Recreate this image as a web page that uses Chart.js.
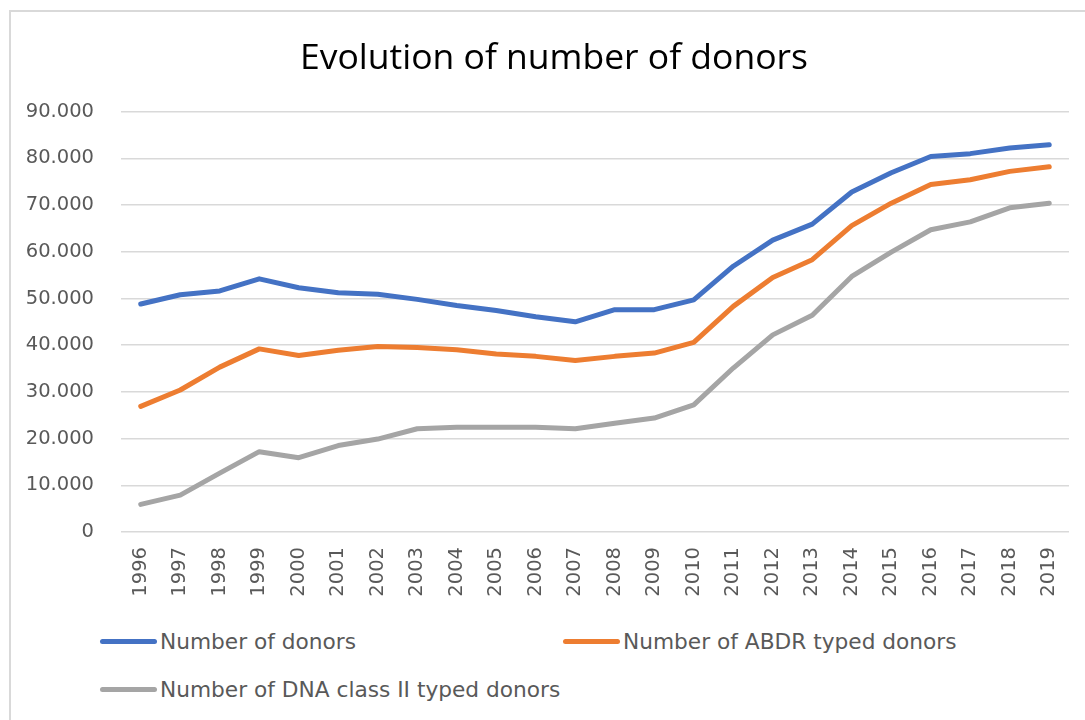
<!DOCTYPE html>
<html>
<head>
<meta charset="utf-8">
<script src="https://cdn.jsdelivr.net/npm/chart.js@4/dist/chart.umd.min.js"></script>
<style>
  html, body { margin: 0; padding: 0; background: #fff; overflow: hidden; }
  body { width: 1085px; height: 720px; position: relative; }
  .frame { position: absolute; left: 9px; top: 10px; width: 1200px; height: 800px;
           border-left: 2px solid #d9d9d9; border-top: 2px solid #d9d9d9; box-sizing: border-box; }
  #chartBox { position: absolute; left: 9px; top: 10px; }
  .legend-item { position: absolute; display: flex; align-items: center; height: 30px;
                 font-family: "DejaVu Sans", sans-serif; font-size: 21.7px; color: #595959; white-space: nowrap; }
  .legend-item .swatch { width: 57px; height: 5px; border-radius: 3px; margin-right: 3px; }
</style>
</head>
<body>
<div class="frame"></div>
<div id="chartBox"><canvas id="donorsChart" width="1090" height="600"></canvas></div>
<div id="legend"></div>

<script>
// data
const years = ['1996', '1997', '1998', '1999', '2000', '2001', '2002', '2003', '2004', '2005', '2006', '2007',
               '2008', '2009', '2010', '2011', '2012', '2013', '2014', '2015', '2016', '2017', '2018', '2019'];

const donors = [48800, 50800, 51600, 54200, 52300, 51200, 50900, 49800, 48500, 47400, 46100, 45000,
                47600, 47600, 49700, 56900, 62500, 65900, 72800, 76900, 80400, 81000, 82200, 82900];

const abdrTyped = [26900, 30400, 35300, 39200, 37800, 38900, 39700, 39500, 39000, 38100, 37600, 36700,
                   37600, 38300, 40600, 48300, 54500, 58300, 65600, 70400, 74400, 75400, 77200, 78200];

const dnaClass2Typed = [5900, 7900, 12600, 17200, 15900, 18500, 19900, 22100, 22400, 22400, 22400, 22100,
                        23300, 24400, 27200, 35100, 42200, 46400, 54700, 59900, 64700, 66400, 69400, 70400];

const seriesNames = ['Number of donors', 'Number of ABDR typed donors', 'Number of DNA class II typed donors'];
const seriesColors = ['#4472C4', '#ED7D31', '#A5A5A5'];

const yMax = 90000;
const yStep = 10000;

// 90000 -> "90.000"
function formatThousands(value) {
    return String(value).replace(/\B(?=(\d{3})+(?!\d))/g, '.');
}

// the original title sits a bit right of the canvas centre
const titleShift = {
    id: 'titleShift',
    afterLayout(chart) {
        if (chart.titleBlock) chart.titleBlock.left += 30;
    }
};

const ctx = document.getElementById('donorsChart').getContext('2d');

const chart = new Chart(ctx, {
    type: 'line',
    data: {
        labels: years,
        datasets: [donors, abdrTyped, dnaClass2Typed].map((values, i) => ({
            label: seriesNames[i],
            data: values,
            borderColor: seriesColors[i],
            backgroundColor: seriesColors[i],
            borderWidth: 5,
            borderCapStyle: 'round',
            borderJoinStyle: 'round',
            pointRadius: 0,
            tension: 0,
            fill: false
        }))
    },
    options: {
        responsive: false,
        animation: false,
        layout: { padding: { left: 0, right: 30, top: 0, bottom: 8 } },
        plugins: {
            legend: { display: false },
            tooltip: { enabled: false },
            title: {
                display: true,
                text: 'Evolution of number of donors',
                color: '#000000',
                font: { family: '"Open Sans", sans-serif', size: 35.5, weight: 'normal', lineHeight: 1.2 },
                padding: { top: 28, bottom: 31 }
            }
        },
        scales: {
            x: {
                offset: true,
                grid: { display: false, drawTicks: false },
                border: { display: false },
                ticks: {
                    color: '#595959',
                    font: { family: '"DejaVu Sans", sans-serif', size: 19.5 },
                    minRotation: 90,
                    maxRotation: 90,
                    autoSkip: false,
                    padding: 15
                },
                afterFit: (scale) => { scale.height = 70; }
            },
            y: {
                min: 0,
                max: yMax,
                grid: { color: '#d9d9d9', lineWidth: 1.5, drawTicks: false },
                border: { display: false },
                ticks: {
                    stepSize: yStep,
                    color: '#595959',
                    font: { family: '"DejaVu Sans", sans-serif', size: 19.5 },
                    padding: 27,
                    callback: (value) => formatThousands(value)
                },
                afterFit: (scale) => { scale.width = 112; }
            }
        }
    },
    plugins: [titleShift]
});

// legend laid out in columns like the original
const legendSlots = [
    { left: 100, top: 626 },
    { left: 563, top: 626 },
    { left: 100, top: 674 }
];
const legendEl = document.getElementById('legend');
seriesNames.forEach((name, i) => {
    const item = document.createElement('div');
    item.className = 'legend-item';
    item.style.left = legendSlots[i].left + 'px';
    item.style.top = legendSlots[i].top + 'px';
    item.innerHTML = '<span class="swatch" style="background:' + seriesColors[i] + '"></span><span>' + name + '</span>';
    legendEl.appendChild(item);
});
</script>
</body>
</html>
